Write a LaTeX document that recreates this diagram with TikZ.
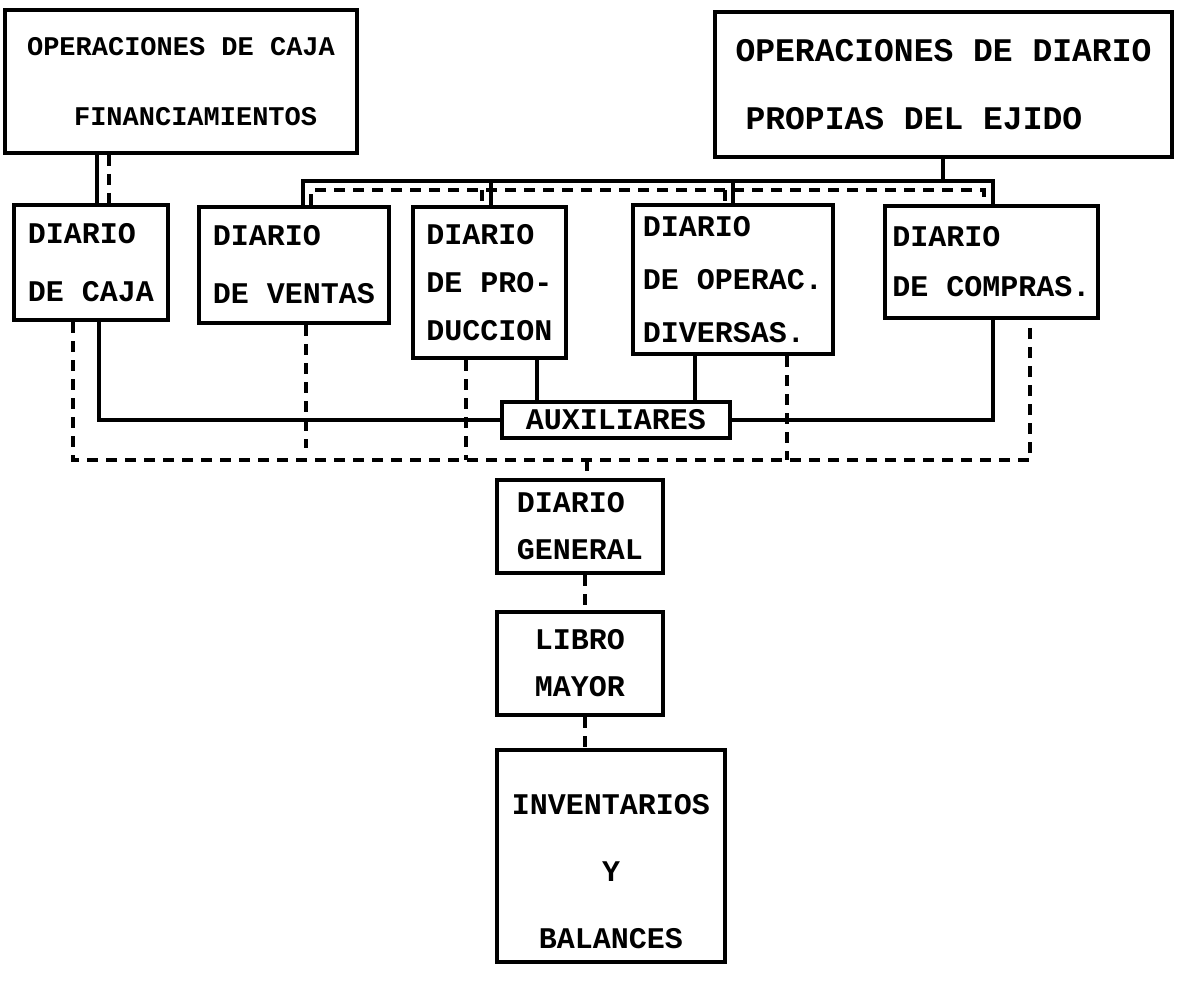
\documentclass[tikz,border=0pt]{standalone}
\usepackage{fontspec}
\setmonofont{Liberation Mono}
\begin{document}
\begin{tikzpicture}[x=1pt, y=-1pt, line width=3.5pt,
  every node/.style={draw, line width=4pt, inner sep=0pt, align=left,
    font=\ttfamily\bfseries\fontsize{30}{45}\selectfont},
  brk/.style={line width=4pt, dash pattern=on 11pt off 8pt}]
  \useasboundingbox (0,0) rectangle (1178,987);
  \node [minimum width=352, minimum height=143,
    font=\ttfamily\bfseries\fontsize{27}{45}\selectfont] (opcaja) at (181,81.5)
    {OPERACIONES DE CAJA\\[25pt]\hspace*{47pt}FINANCIAMIENTOS};
  \node [minimum width=457, minimum height=145,
    font=\ttfamily\bfseries\fontsize{33}{45}\selectfont] (opdiario) at (943.5,84.5)
    {OPERACIONES DE DIARIO\\[23pt]\hspace*{10pt}PROPIAS DEL EJIDO};
  \node [minimum width=154, minimum height=115] (dcaja) at (91,262.5) {DIARIO\\[13pt]DE CAJA};
  \node [minimum width=190, minimum height=116] (dventas) at (294,265) {DIARIO\\[13pt]DE VENTAS};
  \node [minimum width=153, minimum height=151] (dprod) at (489.5,282.5) {DIARIO\\[3pt]DE PRO-\\[3pt]DUCCION};
  \node [minimum width=200, minimum height=149] (doper) at (733,279.5) {DIARIO\\[8pt]DE OPERAC.\\[8pt]DIVERSAS.};
  \node [minimum width=213, minimum height=112] (dcompras) at (991.5,262) {DIARIO\\[5pt]DE COMPRAS.};
  \node [minimum width=228, minimum height=36] (aux) at (616,420) {AUXILIARES};
  \node [minimum width=166, minimum height=93] (dgeneral) at (580,526.5) {DIARIO\\[2pt]GENERAL};
  \node [minimum width=166, minimum height=103] (libro) at (580,663.5) {LIBRO\\[2pt]MAYOR};
  \node [minimum width=228, minimum height=212, align=center] (inventarios) at (611,856)
    {\rule{0pt}{52pt}INVENTARIOS\\[22pt]Y\\[22pt]BALANCES};
  \draw (opcaja.south -| 97,0) -- (dcaja.north -| 97,0);
  \draw [brk] (opcaja.south -| 109,0) -- (dcaja.north -| 109,0);
  \draw (opdiario.south -| 943,0) -- (943,181);
  \draw (dventas.north -| 303,0) -- (303,181) -- (993,181) -- (dcompras.north -| 993,0);
  \draw (491,181) -- (dprod.north -| 491,0);
  \draw (733,181) -- (doper.north -| 733,0);
  \draw [brk] (dventas.north -| 311,0) -- (311,190) -- (984,190) -- (dcompras.north -| 984,0);
  \draw [brk] (482,190) -- (dprod.north -| 482,0);
  \draw [brk] (725,190) -- (doper.north -| 725,0);
  \draw (dcaja.south -| 99,0) |- (aux.west);
  \draw (dprod.south -| 537,0) -- (aux.north -| 537,0);
  \draw (doper.south -| 695,0) -- (aux.north -| 695,0);
  \draw (aux.east) -| (dcompras.south -| 993,0);
  \draw [brk] (dcaja.south -| 73,0) |- (1030,460) -- (dcompras.south -| 1030,0);
  \draw [brk] (dventas.south -| 306,0) -- (306,448);
  \draw [brk] (dprod.south -| 466,0) -- (466,460);
  \draw [brk] (doper.south -| 787,0) -- (787,460);
  \draw [brk] (587,460) -- (dgeneral.north -| 587,0);
  \draw [brk] (dgeneral.south -| 585,0) -- (libro.north -| 585,0);
  \draw [brk] (libro.south -| 585,0) -- (inventarios.north -| 585,0);
\end{tikzpicture}
\end{document}
